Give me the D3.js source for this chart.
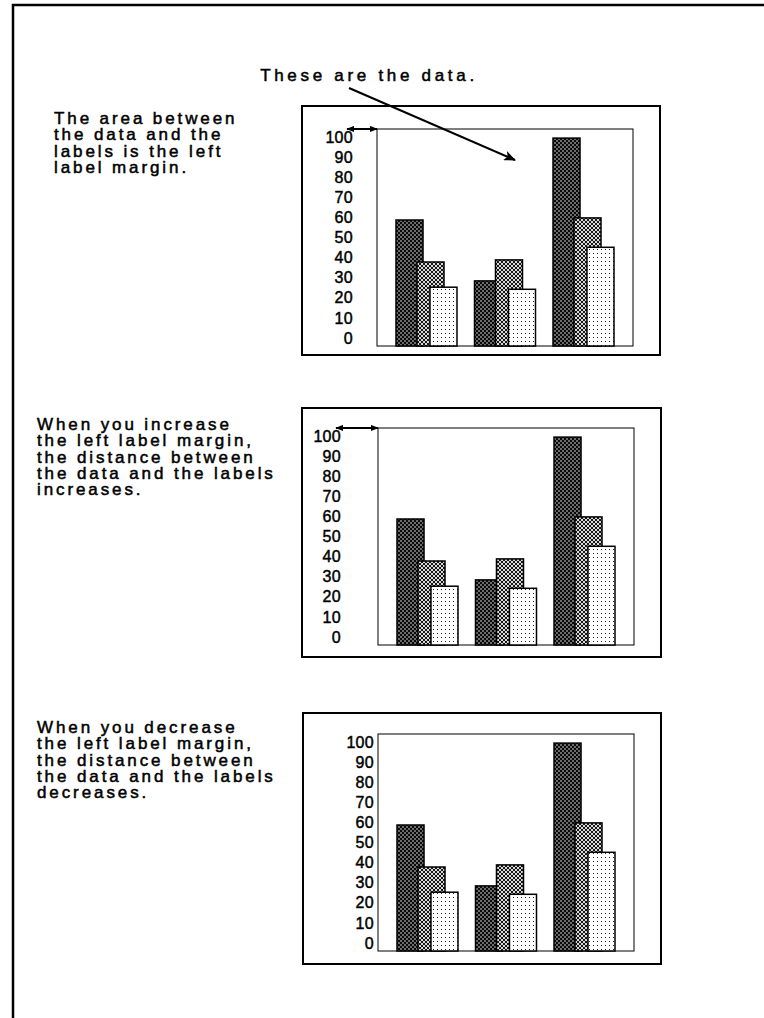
<!DOCTYPE html>
<html><head><meta charset="utf-8">
<script src="https://cdn.jsdelivr.net/npm/d3@7"></script>
<style>
html,body{margin:0;padding:0;background:#fff;}
svg{display:block;}
text{font-family:"Liberation Sans",Arial,Helvetica,sans-serif;fill:#000;}
</style></head><body>
<svg id="chart" width="764" height="1018"></svg>
<script>
// ---------- data ----------
const categories = ["Group 1", "Group 2", "Group 3"];
const seriesNames = ["Series 1", "Series 2", "Series 3"];
const series1Values = [60, 31, 99];
const series2Values = [40, 41, 61];
const series3Values = [28, 27, 47];
const tickLabels = [0, 10, 20, 30, 40, 50, 60, 70, 80, 90, 100];
const titleText = "These are the data.";
const note1Lines = ["The area between", "the data and the", "labels is the left", "label margin."];
const note2Lines = ["When you increase", "the left label margin,", "the distance between", "the data and the labels", "increases."];
const note3Lines = ["When you decrease", "the left label margin,", "the distance between", "the data and the labels", "decreases."];

// ---------- layout ----------
const svg = d3.select("#chart");
const panels = [
  {box: [302, 106, 660, 355], plot: [377, 129, 633, 346], labelRight: 353, marginArrow: 347, note: note1Lines, noteX: 54, noteY: 124},
  {box: [302, 408, 661, 657], plot: [378, 428, 634, 645], labelRight: 341, marginArrow: 336, note: note2Lines, noteX: 37, noteY: 430},
  {box: [303, 713, 661, 964], plot: [378, 734, 634, 951], labelRight: 374, marginArrow: null, note: note3Lines, noteX: 37, noteY: 733}
];
const seriesData = [series1Values, series2Values, series3Values];
const seriesOffsetFrac = [0, 0.344, 0.557];
const barWidthFrac = 0.443;
const lineStep = 16.3;

// ---------- patterns & markers ----------
const defs = svg.append("defs");
const pDark = defs.append("pattern").attr("id", "pDark").attr("patternUnits", "userSpaceOnUse").attr("width", 4).attr("height", 4);
pDark.append("rect").attr("width", 4).attr("height", 4).attr("fill", "#0a0a0a");
pDark.selectAll("circle").data([[1, 1], [3, 3]]).join("circle").attr("cx", d => d[0]).attr("cy", d => d[1]).attr("r", 0.75).attr("fill", "#fff");
const pMed = defs.append("pattern").attr("id", "pMed").attr("patternUnits", "userSpaceOnUse").attr("width", 4).attr("height", 4);
pMed.append("rect").attr("width", 4).attr("height", 4).attr("fill", "#fff");
pMed.selectAll("circle").data([[0, 0], [4, 0], [0, 4], [4, 4], [2, 2]]).join("circle").attr("cx", d => d[0]).attr("cy", d => d[1]).attr("r", 1.2).attr("fill", "#111");
const pLight = defs.append("pattern").attr("id", "pLight").attr("patternUnits", "userSpaceOnUse").attr("width", 4).attr("height", 4);
pLight.append("rect").attr("width", 4).attr("height", 4).attr("fill", "#fff");
pLight.append("rect").attr("x", 1).attr("y", 1).attr("width", 1).attr("height", 1).attr("fill", "#222");
const fills = ["url(#pDark)", "url(#pMed)", "url(#pLight)"];

defs.append("marker").attr("id", "bigHead").attr("viewBox", "0 0 12 10").attr("refX", 11).attr("refY", 5)
  .attr("markerUnits", "userSpaceOnUse").attr("markerWidth", 14).attr("markerHeight", 10).attr("orient", "auto")
  .append("path").attr("d", "M0,0 L12,5 L0,10 L3,5 Z").attr("fill", "#000");
defs.append("marker").attr("id", "smallHead").attr("viewBox", "0 0 10 8").attr("refX", 9).attr("refY", 4)
  .attr("markerUnits", "userSpaceOnUse").attr("markerWidth", 8).attr("markerHeight", 7).attr("orient", "auto-start-reverse")
  .append("path").attr("d", "M0,0 L10,4 L0,8 Z").attr("fill", "#000");

// ---------- page frame ----------
svg.append("path").attr("d", "M764,5 L13,5 L13,1018").attr("fill", "none").attr("stroke", "#000").attr("stroke-width", 2.5);

// ---------- panels ----------
panels.forEach(p => {
  const [bx0, by0, bx1, by1] = p.box;
  const [px0, py0, px1, py1] = p.plot;
  const g = svg.append("g");
  g.append("rect").attr("x", bx0).attr("y", by0).attr("width", bx1 - bx0).attr("height", by1 - by0)
    .attr("fill", "none").attr("stroke", "#000").attr("stroke-width", 2);
  g.append("rect").attr("x", px0).attr("y", py0).attr("width", px1 - px0).attr("height", py1 - py0)
    .attr("fill", "#fff").attr("stroke", "#000").attr("stroke-width", 1);

  const x = d3.scaleBand().domain(categories).range([px0, px1]).paddingInner(0.223).paddingOuter(0.242);
  const y = d3.scaleLinear().domain([0, 100]).range([py1, py0 + 7]);
  const yLabel = d3.scaleLinear().domain([0, 100]).range([py1 - 8, py0 + 8]);
  const bw = x.bandwidth();

  seriesData.forEach((vals, si) => {
    g.append("g").selectAll("rect").data(vals).join("rect")
      .attr("x", (d, i) => x(categories[i]) + seriesOffsetFrac[si] * bw)
      .attr("width", barWidthFrac * bw)
      .attr("y", d => y(d))
      .attr("height", d => y(0) - y(d))
      .attr("fill", fills[si]).attr("stroke", "#000").attr("stroke-width", 1.5);
  });

  const axis = g.append("g").attr("transform", `translate(${p.labelRight},0)`)
    .call(d3.axisLeft(yLabel).tickValues(tickLabels).tickSize(0).tickPadding(0).tickFormat(d3.format("d")));
  axis.select(".domain").remove();
  axis.selectAll("text").attr("fill", "#000").attr("stroke", "#000").attr("stroke-width", 0.45)
    .style("font-size", "16px").style("letter-spacing", "0.3px")
    .style("font-family", "'Liberation Sans',Arial,sans-serif");

  if (p.marginArrow !== null) {
    g.append("line").attr("x1", p.marginArrow).attr("y1", py0).attr("x2", px0).attr("y2", py0)
      .attr("stroke", "#000").attr("stroke-width", 2)
      .attr("marker-start", "url(#smallHead)").attr("marker-end", "url(#smallHead)");
  }

  const t = svg.append("text").style("font-size", "17px").style("letter-spacing", "2.9px")
    .attr("stroke", "#000").attr("stroke-width", 0.5);
  t.selectAll("tspan").data(p.note).join("tspan")
    .attr("x", p.noteX).attr("y", (d, i) => p.noteY + i * lineStep).text(d => d);
});

// ---------- title & arrow (on top) ----------
svg.append("text").attr("x", 369).attr("y", 81).attr("text-anchor", "middle")
  .attr("stroke", "#000").attr("stroke-width", 0.5)
  .style("font-size", "17px").style("letter-spacing", "3.7px").text(titleText);
svg.append("line").attr("x1", 349).attr("y1", 88).attr("x2", 515).attr("y2", 160)
  .attr("stroke", "#000").attr("stroke-width", 2.2).attr("marker-end", "url(#bigHead)");
</script>
</body></html>
